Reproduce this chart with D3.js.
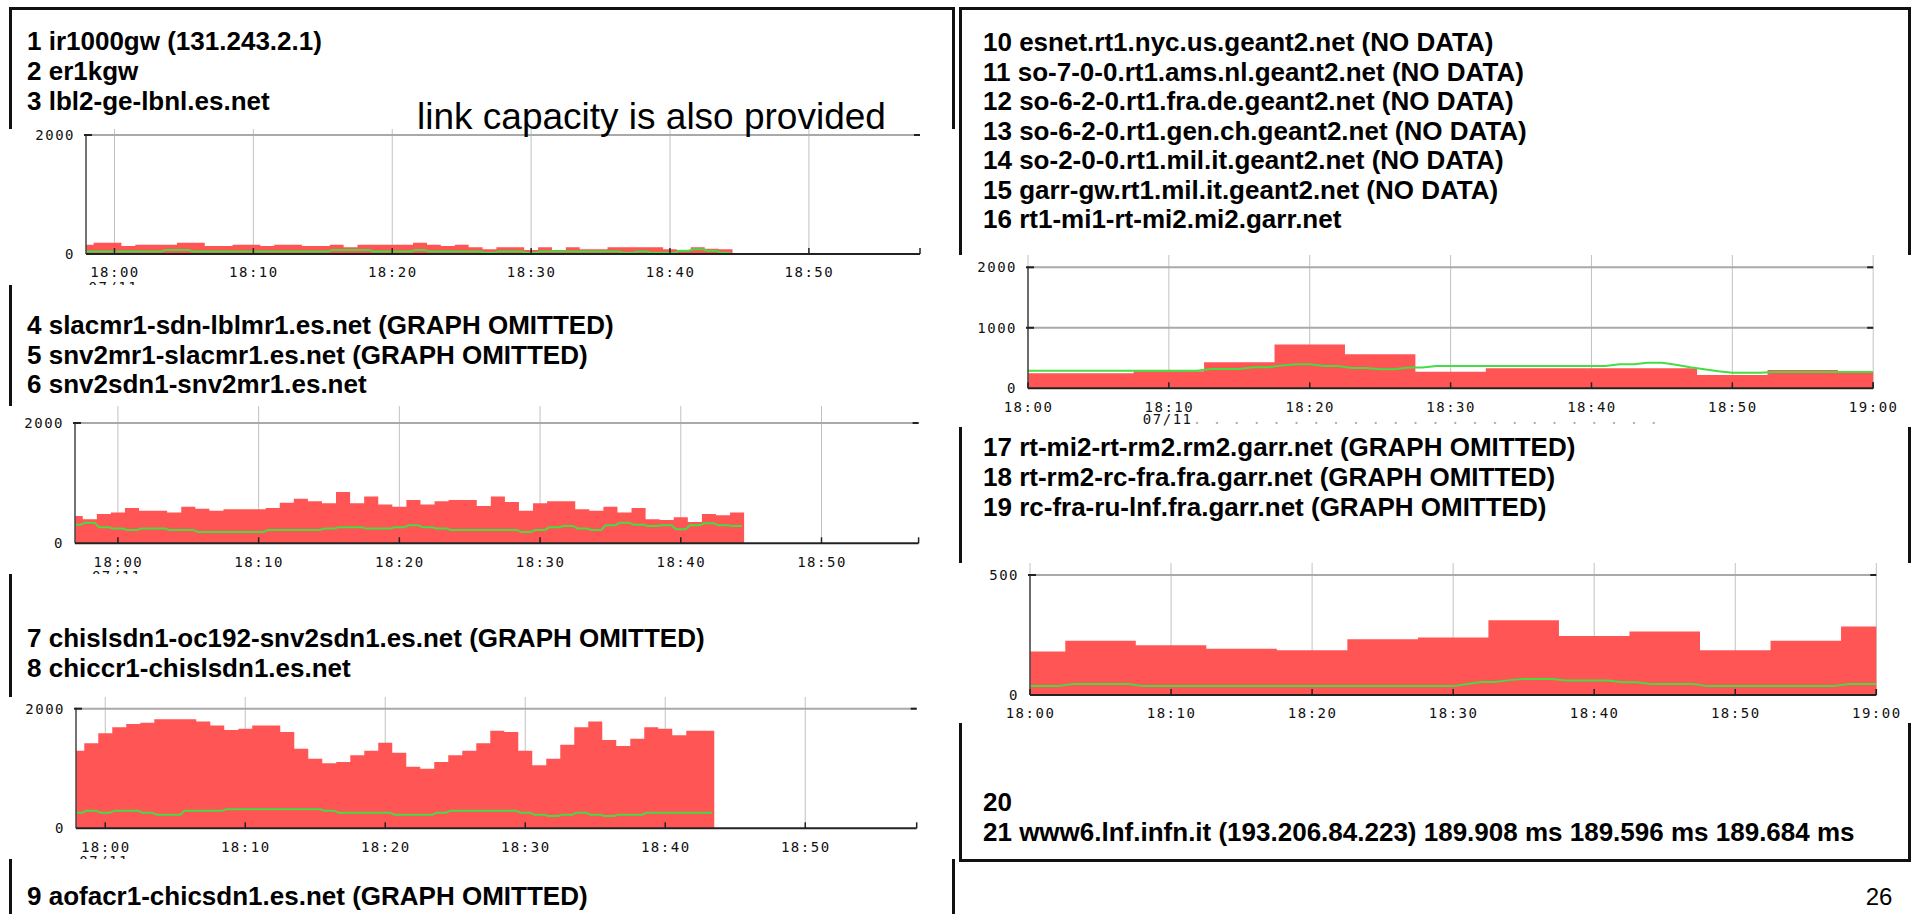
<!DOCTYPE html>
<html><head><meta charset="utf-8">
<script src="https://cdn.jsdelivr.net/npm/d3@7"></script>
<style>
html,body{margin:0;padding:0;background:#fff;}
svg{display:block;}
.lbl{font-family:"DejaVu Sans Mono",monospace;font-size:14px;fill:#111;letter-spacing:1.5px;}
.hop{font-family:"Liberation Sans",Arial,sans-serif;font-weight:bold;font-size:26px;fill:#000;}
.note{font-family:"Liberation Sans",Arial,sans-serif;font-size:37px;fill:#000;}
.page{font-family:"Liberation Sans",Arial,sans-serif;font-size:24px;fill:#000;}
</style></head><body>
<svg id="s" width="1913" height="914"></svg>
<script>
// ---------------- DATA ----------------
const hops1to3 = ["1 ir1000gw (131.243.2.1)", "2 er1kgw", "3 lbl2-ge-lbnl.es.net"];
const hops4to6 = ["4 slacmr1-sdn-lblmr1.es.net (GRAPH OMITTED)", "5 snv2mr1-slacmr1.es.net (GRAPH OMITTED)", "6 snv2sdn1-snv2mr1.es.net"];
const hops7to8 = ["7 chislsdn1-oc192-snv2sdn1.es.net (GRAPH OMITTED)", "8 chiccr1-chislsdn1.es.net"];
const hops9 = ["9 aofacr1-chicsdn1.es.net (GRAPH OMITTED)"];
const hops10to16 = ["10 esnet.rt1.nyc.us.geant2.net (NO DATA)", "11 so-7-0-0.rt1.ams.nl.geant2.net (NO DATA)",
  "12 so-6-2-0.rt1.fra.de.geant2.net (NO DATA)", "13 so-6-2-0.rt1.gen.ch.geant2.net (NO DATA)",
  "14 so-2-0-0.rt1.mil.it.geant2.net (NO DATA)", "15 garr-gw.rt1.mil.it.geant2.net (NO DATA)",
  "16 rt1-mi1-rt-mi2.mi2.garr.net"];
const hops17to19 = ["17 rt-mi2-rt-rm2.rm2.garr.net (GRAPH OMITTED)", "18 rt-rm2-rc-fra.fra.garr.net (GRAPH OMITTED)", "19 rc-fra-ru-lnf.fra.garr.net (GRAPH OMITTED)"];
const hops20to21 = ["20", "21 www6.lnf.infn.it (193.206.84.223) 189.908 ms 189.596 ms 189.684 ms"];
const noteText = "link capacity is also provided";
const pageNumber = "26";

const tickMinutes = [0, 10, 20, 30, 40, 50, 60];          // minutes after 18:00
const tickLabels = ["18:00", "18:10", "18:20", "18:30", "18:40", "18:50", "19:00"];
const dateLabel = "07/11";

// Chart A: hop 3 (1-minute samples, first sample at 17:58)
const aStart = -2;
const aRed = [157,190,190,134,157,157,157,190,190,134,134,157,157,134,157,157,134,134,157,112,157,157,157,157,190,157,134,157,112,78,112,112,67,112,67,112,78,78,112,112,112,112,78,67,112,90,78];
const aGreen = [40,40,40,40,40,40,67,67,40,40,40,40,40,40,40,40,40,40,67,67,67,40,40,40,67,40,40,40,40,22,40,40,22,40,40,40,40,40,40,22,40,22,22,56,78,56,22];
const aYTicks = [0, 2000];

// Chart B: hop 6 (first sample at 17:57)
const bStart = -3;
const bRed = [454,399,488,510,587,543,543,510,609,576,543,565,565,565,587,676,742,698,665,853,665,776,643,609,720,643,698,720,720,620,776,687,543,665,698,698,565,543,609,510,587,399,388,432,355,488,465,510];
const bGreen = [310,343,266,244,222,244,244,222,222,188,188,188,188,188,222,222,222,222,244,266,266,244,244,266,299,266,244,222,222,222,222,222,188,222,266,288,244,222,299,343,310,288,299,233,299,332,299,288];
const bYTicks = [0, 2000];

// Chart C: hop 8 (first sample at 17:58)
const cStart = -2;
const cRed = [1298,1421,1588,1688,1744,1766,1822,1822,1822,1788,1721,1643,1666,1721,1721,1610,1331,1164,1086,1109,1220,1298,1432,1265,1031,997,1109,1220,1298,1421,1632,1610,1298,1053,1164,1398,1688,1788,1476,1376,1499,1688,1666,1554,1632,1632];
const cGreen = [262,295,262,295,295,262,228,228,295,295,295,318,318,318,318,318,318,318,295,262,262,262,262,228,228,228,262,295,295,295,295,295,262,228,206,228,262,228,206,228,228,262,262,262,262,262];
const cYTicks = [0, 2000];

// Chart D: hop 16 (red: 5-minute samples from 18:00, green: 1-minute samples from 18:00)
const dRed = [248,248,281,430,722,562,275,331,331,331,220,303,264];
const dGreen = [292,292,292,292,292,292,292,292,292,292,292,292,292,320,320,320,347,347,375,397,397,369,369,336,336,314,314,342,342,
  369,369,369,369,369,369,369,369,369,369,369,369,369,397,397,424,424,391,347,314,281,259,259,259,270,270,270,270,270,270,270,270];
const dYTicks = [0, 1000, 2000];

// Chart E: hop 19/20 (red: 5-minute samples, green: 1-minute samples)
const eRed = [181,226,207,193,186,232,240,311,246,265,186,226,285];
const eGreen = [37,37,37,46,46,46,46,46,37,37,37,37,37,37,37,37,37,37,37,37,37,37,37,37,37,37,37,37,37,37,37,46,54,54,62,67,67,67,60,60,60,60,53,53,46,46,46,46,37,37,37,37,37,37,37,37,37,37,46,46,46];
const eYTicks = [0, 500];

// ---------------- LAYOUT ----------------
const charts = [
  {panel:[8,129,957,285], plot:[86,135,920,254], dom:[-2.05,58], ymax:2000, yt:aYTicks, ticks:[0,10,20,30,40,50],
   red:{start:aStart, step:1, vals:aRed}, green:{start:aStart, step:1, vals:aGreen, mode:"plateau"}, date:"start"},
  {panel:[8,406,957,574], plot:[75,423,918.6,543.3], dom:[-3.05,56.9], ymax:2000, yt:bYTicks, ticks:[0,10,20,30,40,50],
   red:{start:bStart, step:1, vals:bRed}, green:{start:bStart, step:1, vals:bGreen, mode:"plateau"}, date:"start"},
  {panel:[8,697,957,859], plot:[76,708.7,916.7,828.3], dom:[-2.09,57.96], ymax:2000, yt:cYTicks, ticks:[0,10,20,30,40,50],
   red:{start:cStart, step:1, vals:cRed}, green:{start:cStart, step:1, vals:cGreen, mode:"plateau"}, date:"start"},
  {panel:[948,255,1913,427], plot:[1028,267.3,1873.2,388.3], dom:[0,60], ymax:2000, yt:dYTicks, ticks:tickMinutes,
   red:{start:0, step:5, vals:dRed}, green:{start:0, step:1, vals:dGreen, mode:"center"}, date:"second"},
  {panel:[948,563,1913,723], plot:[1030,575,1876.3,695], dom:[0,60], ymax:500, yt:eYTicks, ticks:tickMinutes,
   red:{start:0, step:5, vals:eRed}, green:{start:0, step:1, vals:eGreen, mode:"center"}, date:null}
];

const svg = d3.select("#s");

// slide boxes
const B = svg.append("g").attr("stroke", "#111").attr("stroke-width", 3).attr("fill", "none");
B.append("path").attr("d", "M10.5,914 V8.5 H953.5 V914");
B.append("path").attr("d", "M960.5,860.5 V8.5 H1909.5 V860.5 Z");

function stepArea(s) {
  const pts = s.vals.map((v, i) => [s.start + i * s.step - s.step / 2, v]);
  pts.push([s.start + (s.vals.length - 1) * s.step + s.step / 2, s.vals[s.vals.length - 1]]);
  return pts;
}
function greenPts(s) {
  if (s.mode === "center") return s.vals.map((v, i) => [s.start + i * s.step, v]);
  const r = 0.15, pts = [];
  s.vals.forEach((v, i) => { const c = s.start + i * s.step; pts.push([c - s.step / 2 + r, v], [c + s.step / 2 - r, v]); });
  return pts;
}

charts.forEach((c, ci) => {
  const [X0, Y0, X1, Y1] = c.panel, [p0, q0, p1, q1] = c.plot;
  const x = d3.scaleLinear().domain(c.dom).range([p0, p1]);
  const y = d3.scaleLinear().domain([0, c.ymax]).range([q1, q0]);
  const g = svg.append("g");
  g.append("rect").attr("x", X0).attr("y", Y0).attr("width", X1 - X0).attr("height", Y1 - Y0).attr("fill", "#fff");
  const cid = "clip" + ci, pid = "pclip" + ci;
  g.append("clipPath").attr("id", cid).append("rect").attr("x", p0).attr("y", q0 - 2).attr("width", p1 - p0).attr("height", q1 - q0 + 2);
  g.append("clipPath").attr("id", pid).append("rect").attr("x", X0).attr("y", Y0).attr("width", X1 - X0).attr("height", Y1 - Y0);

  // vertical grid
  g.selectAll(".vg").data(c.ticks).join("line").attr("x1", d => x(d)).attr("x2", d => x(d))
    .attr("y1", Y0).attr("y2", q1).attr("stroke", "#c2c2c2").attr("stroke-width", 1);
  // horizontal majors
  const majors = c.yt.filter(v => v > 0);
  g.selectAll(".hg").data(majors).join("line").attr("x1", p0).attr("x2", p1).attr("y1", d => y(d)).attr("y2", d => y(d))
    .attr("stroke", "#a9a9a9").attr("stroke-width", 2);

  // red area
  const area = d3.area().x(d => x(d[0])).y0(y(0)).y1(d => y(d[1])).curve(d3.curveStepAfter);
  g.append("path").datum(stepArea(c.red)).attr("d", area).attr("fill", "#ff5555").attr("clip-path", `url(#${cid})`);
  // green line
  const line = d3.line().x(d => x(d[0])).y(d => y(d[1]));
  g.append("path").datum(greenPts(c.green)).attr("d", line).attr("fill", "none").attr("stroke", "#44dd44")
    .attr("stroke-width", 2).attr("clip-path", `url(#${cid})`);

  // axes lines
  g.append("line").attr("x1", p0).attr("x2", p0).attr("y1", q0 - 1).attr("y2", q1).attr("stroke", "#444").attr("stroke-width", 1.5);
  g.append("line").attr("x1", p0).attr("x2", p1).attr("y1", q1).attr("y2", q1).attr("stroke", "#222").attr("stroke-width", 2);
  majors.forEach(v => {
    [[p0 - 2, p0 + 6], [p1 - 6, p1]].forEach(([a, b]) =>
      g.append("line").attr("x1", a).attr("x2", b).attr("y1", y(v)).attr("y2", y(v)).attr("stroke", "#222").attr("stroke-width", 2));
  });
  g.selectAll(".bt").data(c.ticks.concat([c.dom[1]])).join("line").attr("x1", d => x(d)).attr("x2", d => x(d))
    .attr("y1", q1 - 6).attr("y2", q1).attr("stroke", "#222").attr("stroke-width", 1.5);

  // x labels
  const xa = d3.axisBottom(x).tickValues(c.ticks).tickFormat(t => tickLabels[tickMinutes.indexOf(t)]).tickSize(0).tickPadding(13.5);
  const ax = g.append("g").attr("transform", `translate(0,${q1})`).call(xa);
  ax.select(".domain").remove();
  ax.selectAll("text").attr("class", "lbl");
  // y labels
  const ya = d3.axisLeft(y).tickValues(c.yt).tickSize(0).tickPadding(11).tickFormat(d3.format("d"));
  const ay = g.append("g").attr("transform", `translate(${p0},0)`).call(ya);
  ay.select(".domain").remove();
  ay.selectAll("text").attr("class", "lbl");

  // date label (cut by the image edge)
  if (c.date === "start") {
    g.append("text").attr("class", "lbl").attr("x", x(0) - 26).attr("y", q1 + 38).text(dateLabel).attr("clip-path", `url(#${pid})`);
  } else if (c.date === "second") {
    g.append("text").attr("class", "lbl").attr("x", x(10) - 26).attr("y", q1 + 36).text(dateLabel);
    g.append("text").attr("class", "lbl").attr("x", x(10) + 24).attr("y", q1 + 36).style("fill", "#aaa")
      .text(". .  .  .  .  .  .  .  .  .  .  .  .  .  .  .  .  .  .  .  .  .  .  .");
  }
});

// ---------------- TEXT ----------------
function block(lines, x, y0, dy) {
  svg.append("g").selectAll("text").data(lines).join("text").attr("class", "hop")
    .attr("x", x).attr("y", (d, i) => y0 + i * dy).text(d => d);
}
block(hops1to3, 27, 50, 30);
block(hops4to6, 27, 334, 29.5);
block(hops7to8, 27, 647, 30);
block(hops9, 27, 905, 30);
block(hops10to16, 983, 51, 29.5);
block(hops17to19, 983, 456, 30);
block(hops20to21, 983, 811, 30);
svg.append("text").attr("class", "note").attr("x", 417).attr("y", 129).text(noteText);
svg.append("text").attr("class", "page").attr("x", 1879).attr("y", 905).attr("text-anchor", "middle").text(pageNumber);
</script></body></html>
